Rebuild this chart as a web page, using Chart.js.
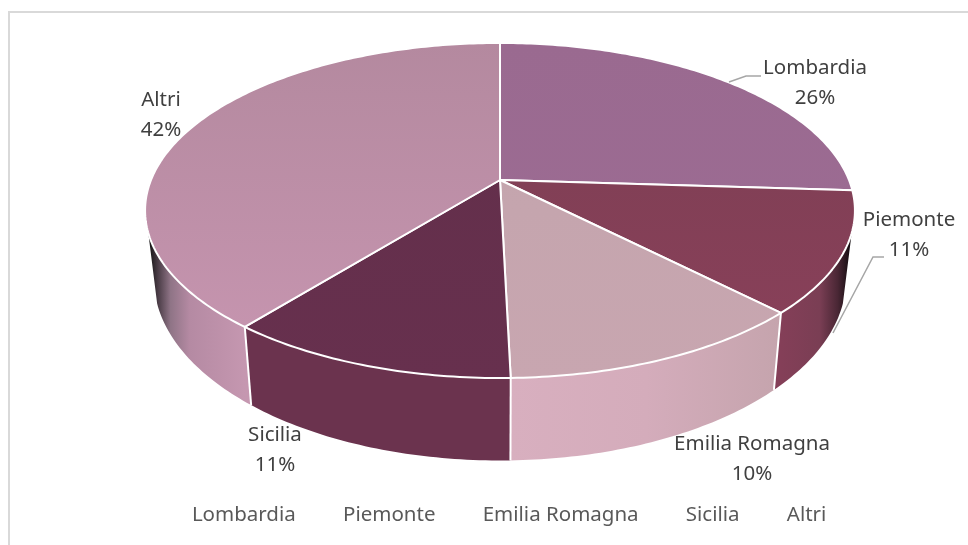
<!DOCTYPE html>
<html>
<head>
<meta charset="utf-8">
<style>
  html, body { margin: 0; padding: 0; background: #fff; overflow: hidden; }
  #wrap { position: relative; width: 968px; height: 545px; }
  #frame { position: absolute; left: 8px; top: 11px; right: 0; bottom: 0; border-left: 2px solid #d9d9d9; border-top: 2px solid #d9d9d9; }
</style>
</head>
<body>
<div id="wrap">
  <div id="frame"></div>
  <canvas id="chart" width="968" height="545"></canvas>
</div>
<script src="https://cdn.jsdelivr.net/npm/chart.js@4/dist/chart.umd.min.js"></script>
<script>
const categories = ['Lombardia', 'Piemonte', 'Emilia Romagna', 'Sicilia', 'Altri'];
// Slice sizes as they look on the drawing; the printed percentages below don't quite agree with them
const sliceValues = [26, 11.65, 11.95, 11.2, 39.2];
const percentLabels = ['26%', '11%', '10%', '11%', '42%'];

// Top face colours (far edge, near edge)
const topFar = ['#9a6a90', '#7c3f53', '#c2a4ac', '#622f4a', '#b4899f'];
const topNear = ['#9d6c94', '#8a405a', '#c8a6b0', '#67304e', '#c896b1'];
// Side wall colour stops, left to right: [position, colour]
const wallStops = [
  [[0, '#7a3e54'], [1, '#0e0a0d']],
  [[0, '#843f58'], [0.55, '#7a3e54'], [0.8, '#4a2735'], [1, '#0e0a0d']],
  [[0, '#d8afbf'], [0.5, '#d4acbb'], [1, '#c5a4ad']],
  [[0, '#6b334e'], [1, '#6b334e']],
  [[0, '#111'], [0.1, '#4a3c46'], [0.23, '#8f7486'], [0.43, '#b58aa3'], [1, '#c597b0']]
];

// Tilted disc geometry
const disc = { cx: 500, cy: 180, rx: 349, ry: 162, persp: 0.182, wallX: 0.975, wallY: 1.083, wallShift: 66, wallFrom: 0.315 };

// Data label placement, same order as categories
const labelPos = [[815, 68], [909, 220], [752, 444], [275, 435], [161, 100]];
const leaders = [
  [[761, 76], [746, 76], [729, 82]],
  [[884, 257], [873, 257], [833, 333]]
];

function topPoint(a) {
  const x = Math.cos(a), y = Math.sin(a);
  const d = 1 - disc.persp * y;
  return [disc.cx + disc.rx * x / d, disc.cy + disc.ry * y / d];
}

function wallPoint(a) {
  const p = topPoint(a);
  return [disc.cx + disc.wallX * (p[0] - disc.cx), disc.cy + disc.wallY * (p[1] - disc.cy) + disc.wallShift];
}

function rimPoints(fn, start, end) {
  const steps = Math.max(2, Math.ceil((end - start) / 0.015));
  const pts = [];
  for (let i = 0; i <= steps; i++) pts.push(fn(start + (end - start) * i / steps));
  return pts;
}

function tracePoints(ctx, pts, move) {
  pts.forEach((p, i) => {
    if (i === 0 && move) ctx.moveTo(p[0], p[1]);
    else ctx.lineTo(p[0], p[1]);
  });
}

function xRange(pts) {
  const xs = pts.map(p => p[0]);
  return [Math.min(...xs), Math.max(...xs)];
}

function drawWall(ctx, arc, i) {
  // only the part of the rim facing the viewer
  const start = Math.max(arc.startAngle, disc.wallFrom);
  const end = Math.min(arc.endAngle, Math.PI - disc.wallFrom);
  if (end <= start) return;
  const top = rimPoints(topPoint, start, end);
  const bottom = rimPoints(wallPoint, start, end).reverse();
  const range = xRange(top);
  const grad = ctx.createLinearGradient(range[0], 0, range[1], 0);
  wallStops[i].forEach(s => grad.addColorStop(s[0], s[1]));
  ctx.beginPath();
  tracePoints(ctx, top, true);
  tracePoints(ctx, bottom, false);
  ctx.closePath();
  ctx.fillStyle = grad;
  ctx.fill();
}

function drawTop(ctx, arc, i) {
  const rim = rimPoints(topPoint, arc.startAngle, arc.endAngle);
  const grad = ctx.createLinearGradient(0, disc.cy - 137, 0, disc.cy + 198);
  grad.addColorStop(0, topFar[i]);
  grad.addColorStop(1, topNear[i]);
  ctx.beginPath();
  ctx.moveTo(disc.cx, disc.cy);
  tracePoints(ctx, rim, false);
  ctx.closePath();
  ctx.fillStyle = grad;
  ctx.fill();
  ctx.strokeStyle = '#fff';
  ctx.lineWidth = 2;
  ctx.lineJoin = 'round';
  ctx.stroke();
}

const tiltedPie = {
  id: 'tiltedPie',
  // the flat pie is replaced by the tilted one, angles still come from the pie controller
  beforeDatasetDraw(chart, args) {
    const ctx = chart.ctx;
    const arcs = chart.getDatasetMeta(args.index).data;
    ctx.save();
    arcs.forEach((arc, i) => drawWall(ctx, arc, i));
    // white seams between the visible walls
    ctx.strokeStyle = '#fff';
    ctx.lineWidth = 2;
    arcs.forEach(arc => {
      const a = arc.endAngle;
      if (Math.sin(a) < 0.3) return;
      const p = topPoint(a), q = wallPoint(a);
      ctx.beginPath();
      ctx.moveTo(p[0], p[1]);
      ctx.lineTo(q[0], q[1]);
      ctx.stroke();
    });
    arcs.forEach((arc, i) => drawTop(ctx, arc, i));
    ctx.restore();
    return false;
  },
  afterDatasetsDraw(chart) {
    const ctx = chart.ctx;
    ctx.save();
    ctx.strokeStyle = '#a6a6a6';
    ctx.lineWidth = 1.5;
    leaders.forEach(line => {
      ctx.beginPath();
      tracePoints(ctx, line, true);
      ctx.stroke();
    });
    ctx.fillStyle = '#404040';
    ctx.font = '20.5px "Noto Sans"';
    ctx.textAlign = 'center';
    ctx.textBaseline = 'middle';
    categories.forEach((name, i) => {
      ctx.fillText(name, labelPos[i][0], labelPos[i][1]);
      ctx.fillText(percentLabels[i], labelPos[i][0], labelPos[i][1] + 30);
    });
    ctx.restore();
  }
};

new Chart(document.getElementById('chart'), {
  type: 'pie',
  data: {
    labels: categories,
    datasets: [{ data: sliceValues, backgroundColor: topNear, borderWidth: 0 }]
  },
  options: {
    responsive: false,
    animation: false,
    events: [],
    layout: { padding: { bottom: 10, left: 40 } },
    plugins: {
      tooltip: { enabled: false },
      legend: {
        position: 'bottom',
        labels: { boxWidth: 0, padding: 37, color: '#595959', font: { family: 'Noto Sans', size: 20.5 } }
      }
    }
  },
  plugins: [tiltedPie]
});
</script>
</body>
</html>
